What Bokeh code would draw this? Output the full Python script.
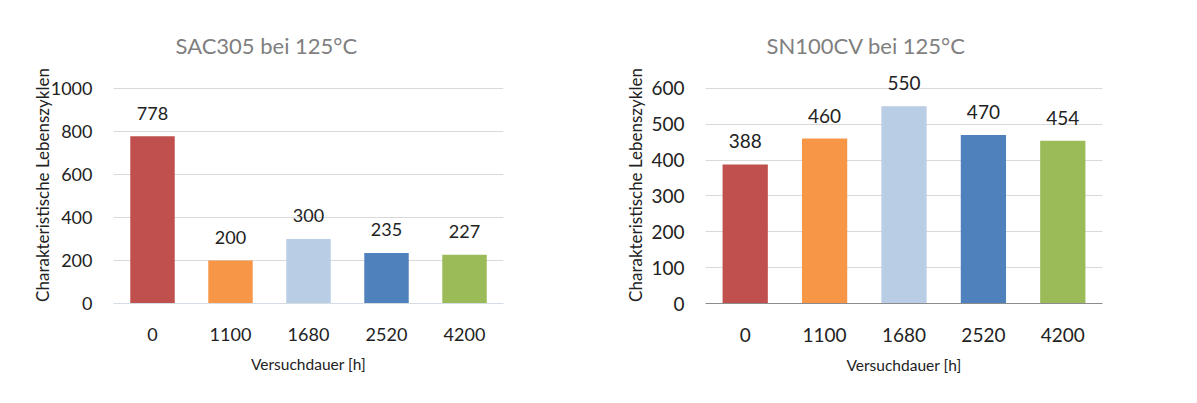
from bokeh.plotting import figure
from bokeh.models import ColumnDataSource, FactorRange, Range1d, FixedTicker
from bokeh.layouts import row
from bokeh.embed import file_html
from bokeh.resources import INLINE
from bokeh.core.properties import value

categories = ["0", "1100", "1680", "2520", "4200"]
sac305 = [778, 200, 300, 235, 227]
sn100cv = [388, 460, 550, 470, 454]
bar_colors = ["#C0504D", "#F79646", "#B9CDE5", "#4F81BD", "#9BBB59"]
sac_ticks = [0, 200, 400, 600, 800, 1000]
sn_ticks = [0, 100, 200, 300, 400, 500, 600]

FONT = "Lato"


def make_chart(title, vals, ticks, y_end, width, mb_left, mb_right,
               fs_tick, base_color, lbl_standoff, ylab_standoff, title_offset):
    src = ColumnDataSource(dict(cat=categories, val=vals, color=bar_colors,
                                txt=[str(v) for v in vals]))
    p = figure(x_range=FactorRange(*categories), y_range=Range1d(0, y_end),
               width=width, height=403, output_backend="svg", toolbar_location=None,
               min_border_left=mb_left, min_border_right=mb_right,
               min_border_top=66, min_border_bottom=100,
               title=title)
    p.outline_line_color = None
    p.background_fill_color = "white"
    p.border_fill_color = "white"
    p.title.text_font = FONT
    p.title.text_font_size = "22px"
    p.title.text_font_style = "normal"
    p.title.text_color = "#7F7F7F"
    p.title.align = "left"
    p.title.offset = title_offset
    p.title.standoff = 16

    p.vbar(x="cat", top="val", width=0.57, color="color", source=src, line_color=None)
    p.text(x="cat", y="val", text="txt", source=src, text_align="center",
           text_baseline="middle", y_offset=-23, text_font=value(FONT),
           text_font_size=fs_tick, text_color="#222222")

    p.yaxis.ticker = FixedTicker(ticks=ticks)
    p.ygrid.ticker = FixedTicker(ticks=ticks)
    p.xgrid.grid_line_color = None
    p.ygrid.grid_line_color = "#D9D9D9"
    p.ygrid.grid_line_width = 1

    for ax in (p.xaxis[0], p.yaxis[0]):
        ax.major_tick_line_color = None
        ax.minor_tick_line_color = None
        ax.major_label_text_font = FONT
        ax.major_label_text_font_size = fs_tick
        ax.major_label_text_color = "#222222"
        ax.axis_label_text_font = FONT
        ax.axis_label_text_font_style = "normal"
        ax.axis_label_text_color = "#222222"
    p.yaxis.axis_label_text_font_size = "17px"
    p.xaxis.axis_label_text_font_size = "15.5px"
    p.yaxis.axis_line_color = None
    p.xaxis.axis_line_color = base_color
    p.xaxis.axis_line_width = 1
    p.yaxis.axis_label = "Charakteristische Lebenszyklen"
    p.xaxis.axis_label = "Versuchdauer [h]"
    p.yaxis.major_label_standoff = lbl_standoff
    p.yaxis.axis_label_standoff = ylab_standoff
    p.xaxis.major_label_standoff = 18
    p.xaxis.axis_label_standoff = 11
    return p


left = make_chart("SAC305 bei 125°C", sac305, sac_ticks, 1102, 598,
                  113, 95, "18px", "#D6DCE4", 15, -5, 62)
right = make_chart("SN100CV bei 125°C", sn100cv, sn_ticks, 661, 599,
                   107, 95, "19px", "#8C8C8C", 15, 2, 61)

layout = row(left, right)
open("out.html", "w").write(file_html(layout, INLINE))
